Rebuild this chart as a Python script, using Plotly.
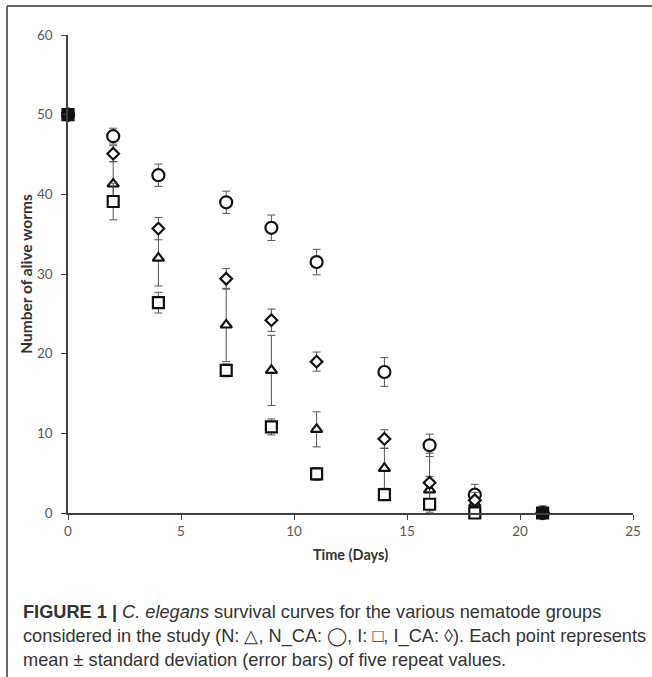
import plotly.graph_objects as go

days = [0, 2, 4, 7, 9, 11, 14, 16, 18, 21]

n_mean = [50, 41.3, 32.0, 23.6, 17.9, 10.5, 5.6, 2.9, 1.2, 0]
n_sd = [0, 2.8, 3.5, 4.6, 4.4, 2.2, 2.5, 1.7, 0.8, 0.5]

nca_mean = [50, 47.3, 42.4, 39.0, 35.8, 31.5, 17.7, 8.5, 2.3, 0]
nca_sd = [0, 1.0, 1.4, 1.4, 1.6, 1.6, 1.8, 1.4, 1.3, 0.9]

i_mean = [50, 39.1, 26.4, 17.9, 10.8, 4.9, 2.3, 1.1, 0, 0]
i_sd = [0, 2.3, 1.3, 0.8, 1.0, 0.8, 0.4, 0.4, 0.2, 0.2]

ica_mean = [50, 45.1, 35.7, 29.4, 24.2, 19.0, 9.3, 3.8, 1.6, 0]
ica_sd = [0, 1.0, 1.4, 1.3, 1.4, 1.2, 1.15, 3.7, 1.0, 0.5]

series = [
    ("N", n_mean, n_sd, "triangle-up", 10),
    ("N_CA", nca_mean, nca_sd, "circle", 12),
    ("I_CA", ica_mean, ica_sd, "diamond", 9),
    ("I", i_mean, i_sd, "square", 11),
]

W, H = 652, 677
ML, MR, MT, MB = 68, 19, 35, 164
PW, PH = W - ML - MR, H - MT - MB


def px(x):
    return (x - ML) / PW


def py(y):
    return (H - MB - y) / PH


# where every group overlaps (start and end), the stacked markers read as a solid square
overlap = [len({n_mean[k], nca_mean[k], i_mean[k], ica_mean[k]}) == 1 for k in range(len(days))]

fig = go.Figure()
for name, m, sd, sym, size in series:
    minus = [min(s, v) for s, v in zip(sd, m)]
    fill = ["#111111" if (o and sym == "square") else "white" for o in overlap]
    fig.add_trace(go.Scatter(
        x=days, y=m, mode="markers", name=name,
        marker=dict(symbol=sym, size=size, color=fill,
                    line=dict(color="#111111", width=2.2)),
        error_y=dict(type="data", array=sd, arrayminus=minus, symmetric=False,
                     color="#555555", thickness=1, width=4),
        cliponaxis=False,
    ))

fig.update_layout(
    width=W, height=H,
    margin=dict(l=ML, r=MR, t=MT, b=MB),
    paper_bgcolor="white", plot_bgcolor="white",
    showlegend=False,
    font=dict(family="Lato, Open Sans, sans-serif", color="#595959", size=13),
    xaxis=dict(range=[0, 25], tickvals=[0, 5, 10, 15, 20, 25],
               showgrid=False, zeroline=False, showline=True,
               linecolor="#404040", linewidth=1.5,
               ticks="outside", ticklen=5, tickcolor="#404040",
               tickfont=dict(size=13.5, color="#595959"),
               title=dict(text="<b>Time (Days)</b>", standoff=12,
                          font=dict(size=14.5, color="#333333"))),
    yaxis=dict(range=[0, 60], tickvals=[0, 10, 20, 30, 40, 50, 60],
               showgrid=False, zeroline=False, showline=True,
               linecolor="#404040", linewidth=1.5,
               ticks="outside", ticklen=5, tickcolor="#404040",
               ticklabelstandoff=6,
               tickfont=dict(size=13.5, color="#595959"),
               title=dict(text="<b>Number of alive worms</b>", standoff=0,
                          font=dict(size=15.5, color="#333333"))),
)

# figure frame (top and left)
fig.add_shape(type="line", xref="paper", yref="paper", layer="above",
              x0=px(7), x1=px(652), y0=py(6), y1=py(6),
              line=dict(color="#666666", width=2))
fig.add_shape(type="line", xref="paper", yref="paper", layer="above",
              x0=px(7), x1=px(7), y0=py(6), y1=py(677),
              line=dict(color="#666666", width=2))

cap_font = dict(family="Liberation Sans, Arial, sans-serif", size=18.2, color="#333333")
lines = [
    "<b>FIGURE 1 |</b> <i>C. elegans</i> survival curves for the various nematode groups",
    "considered in the study (N: △, N_CA: ◯, I: □, I_CA: ◊). Each point represents",
    "mean ± standard deviation (error bars) of five repeat values.",
]
for k, t in enumerate(lines):
    fig.add_annotation(text=t, xref="paper", yref="paper",
                       x=px(21), y=py(612 + 24 * k), xanchor="left", yanchor="middle",
                       showarrow=False, font=cap_font, align="left")

fig.write_html("out.html", config={"displayModeBar": False})

# remove the browser's default page margin so the figure sits at (0, 0)
with open("out.html", "r", encoding="utf-8") as f:
    html = f.read()
html = html.replace("<head>", "<head><style>html,body{margin:0;padding:0;}</style>", 1)
with open("out.html", "w", encoding="utf-8") as f:
    f.write(html)
